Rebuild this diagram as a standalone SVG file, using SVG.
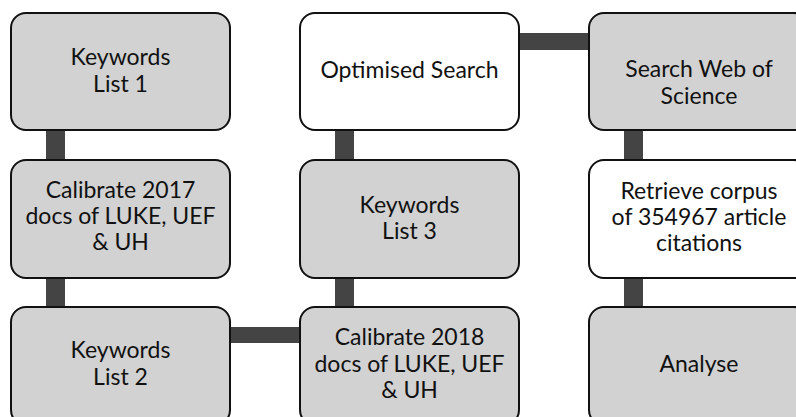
<svg xmlns="http://www.w3.org/2000/svg" width="796" height="417" viewBox="0 0 796 417">
<style>
.box{stroke:#111;stroke-width:2}
.g{fill:#d2d2d2}
.w{fill:#fff}
.c{fill:#444}
text{font-family:Lato,"Open Sans","Liberation Sans",sans-serif;font-size:23px;fill:#111;text-anchor:middle}
</style>
<rect width="796" height="417" fill="#fff"/>
<g id="connectors">
<rect class="c" x="46" y="129" width="19" height="32"/>
<rect class="c" x="46" y="277" width="19" height="31"/>
<rect class="c" x="335" y="129" width="19" height="32"/>
<rect class="c" x="335" y="277" width="19" height="31"/>
<rect class="c" x="624" y="129" width="19" height="32"/>
<rect class="c" x="624" y="277" width="19" height="31"/>
<rect class="c" x="518" y="33" width="72" height="17"/>
<rect class="c" x="229" y="327" width="72" height="16"/>
</g>
<g id="n1"><rect class="box g" x="11" y="13" width="219" height="117" rx="15"/><text x="120.5" y="65">Keywords</text><text x="120.5" y="92">List 1</text></g>
<g id="n2"><rect class="box g" x="11" y="160" width="219" height="118" rx="15"/><text x="120.5" y="198">Calibrate 2017</text><text x="120.5" y="224">docs of LUKE, UEF</text><text x="120.5" y="250">&amp; UH</text></g>
<g id="n3"><rect class="box g" x="11" y="307" width="219" height="118" rx="15"/><text x="120.5" y="358">Keywords</text><text x="120.5" y="385">List 2</text></g>
<g id="n4"><rect class="box w" x="300" y="13" width="219" height="117" rx="15"/><text x="409.5" y="78">Optimised Search</text></g>
<g id="n5"><rect class="box g" x="300" y="160" width="219" height="118" rx="15"/><text x="409.5" y="213">Keywords</text><text x="409.5" y="239">List 3</text></g>
<g id="n6"><rect class="box g" x="300" y="307" width="219" height="118" rx="15"/><text x="409.5" y="345">Calibrate 2018</text><text x="409.5" y="372">docs of LUKE, UEF</text><text x="409.5" y="398">&amp; UH</text></g>
<g id="n7"><rect class="box g" x="589" y="13" width="220" height="117" rx="15"/><text x="699" y="77">Search Web of</text><text x="699" y="104">Science</text></g>
<g id="n8"><rect class="box w" x="589" y="160" width="220" height="118" rx="15"/><text x="699" y="199">Retrieve corpus</text><text x="699" y="225">of 354967 article</text><text x="699" y="251">citations</text></g>
<g id="n9"><rect class="box g" x="589" y="307" width="220" height="118" rx="15"/><text x="699" y="372">Analyse</text></g>
</svg>
